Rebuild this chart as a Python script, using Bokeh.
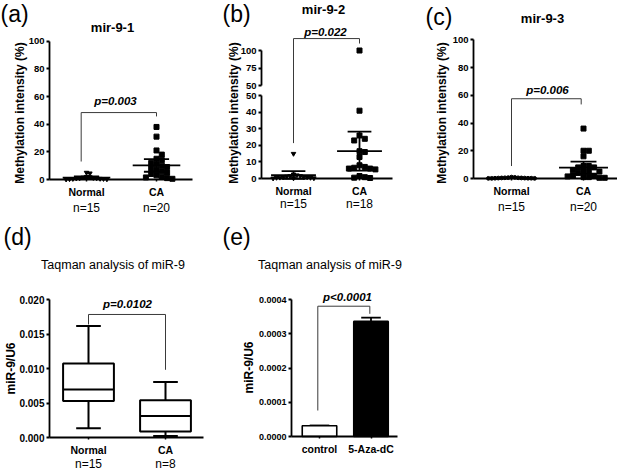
import math
from bokeh.plotting import figure
from bokeh.models import Range1d, FixedTicker, LinearAxis, Label, NumeralTickFormatter
from bokeh.layouts import row, column
from bokeh.embed import file_html
from bokeh.resources import INLINE

FONT = "Liberation Sans"

# ---------------- data ----------------
groups = ["Normal", "CA"]
mir_titles = ["mir-9-1", "mir-9-2", "mir-9-3"]
taqman_title = "Taqman analysis of miR-9"
p_values = ["p=0.003", "p=0.022", "p=0.006", "p=0.0102", "p<0.0001"]
y_title_methyl = "Methylation intensity (%)"
y_title_ratio = "miR-9/U6"

a_n = ["n=15", "n=20"]
a_normal = [5.0, 4.5, 2.0, 1.8, 1.5, 1.2, 1.0, 1.0, 0.8, 0.6, 0.5, 0.5, 0.3, 0.2, 0.1]
a_ca = [38, 31, 21, 18, 15, 14, 12, 11, 10, 9, 8, 7, 6, 5, 4, 3, 2, 1.5, 1, 0.5]
a_mean = [1.4, 10.2]
a_err = [0.8, 4.6]

b_n = ["n=15", "n=18"]
b_normal = [15, 2.5, 2.0, 1.5, 1.5, 1.2, 1.0, 1.0, 0.8, 0.6, 0.5, 0.5, 0.3, 0.2, 0.1]
b_ca = [100, 41, 26, 24, 23, 16.5, 16, 13, 8, 7, 6.5, 6, 6, 5.5, 1.5, 0.8, 0.5, 0.3]
b_mean = [2.1, 16.6]
b_err = [2.3, 11.8]

c_n = ["n=15", "n=20"]
c_normal = [1.0, 0.8, 0.6, 0.5, 0.5, 0.4, 0.4, 0.3, 0.3, 0.2, 0.2, 0.2, 0.1, 0.1, 0.1]
c_ca = [36, 20, 20, 16, 9, 9, 8, 8, 6, 5, 5, 5, 4, 2, 2, 1.5, 1, 1, 0.5, 0.5]
c_mean = [0.4, 7.8]
c_err = [0.2, 4.4]

d_n = ["n=15", "n=8"]
d_min = [0.00135, 0.0002]
d_q1 = [0.0053, 0.00087]
d_med = [0.00696, 0.00313]
d_q3 = [0.01072, 0.0054]
d_max = [0.01617, 0.00806]

e_groups = ["control", "5-Aza-dC"]
e_val = [0.0000312, 0.000336]
e_err = [0.000001, 0.000011]

# significance brackets: x_left, x_right, top, left end, right end
a_bracket = (0.924, 2.0, 48.4, 13.0, 45.6)
b_bracket = (1.0, 2.0, 84.6, 21.4, 81.6)
c_bracket = (1.0, 1.968, 57.5, 9.0, 53.4)
d_bracket = (1.0, 2.0, 0.01783, 0.01638, 0.00981)
e_bracket = (0.967, 1.977, 0.0003804, 0.0000759, 0.0003582)

# ---------------- geometry helpers (page pixels -> data) ----------------
def G(fig_left, fig_top, W, H, p1, p2, y0, ppu):
    return dict(fig_left=fig_left, fig_top=fig_top, W=W, H=H, p1=p1, p2=p2, y0=y0, ppu=ppu)

def X(g, px):
    return 1 + (px - g["p1"]) / (g["p2"] - g["p1"])

def Y(g, py):
    return (g["y0"] - py) / g["ppu"]

def make_fig(g):
    p = figure(width=g["W"], height=g["H"],
               x_range=Range1d(X(g, g["fig_left"]), X(g, g["fig_left"] + g["W"])),
               y_range=Range1d(Y(g, g["fig_top"] + g["H"]), Y(g, g["fig_top"])),
               min_border=0, output_backend="svg", toolbar_location=None)
    p.title.visible = False
    p.xgrid.grid_line_color = None
    p.ygrid.grid_line_color = None
    p.outline_line_color = None
    p.background_fill_color = "white"
    p.border_fill_color = "white"
    return p

def style_y(ax, loc, ticks, bounds, size="9.5px", fmt=None):
    ax.fixed_location = loc
    ax.ticker = FixedTicker(ticks=ticks)
    ax.bounds = bounds
    ax.axis_line_width = 1.8
    ax.axis_line_color = "black"
    ax.major_tick_line_width = 1.8
    ax.major_tick_line_color = "black"
    ax.major_tick_out = 3
    ax.major_tick_in = 0
    ax.minor_tick_line_color = None
    ax.major_label_standoff = 2
    ax.major_label_text_font = FONT
    ax.major_label_text_font_size = size
    ax.major_label_text_font_style = "bold"
    ax.major_label_text_color = "black"
    if fmt:
        ax.formatter = NumeralTickFormatter(format=fmt)

def style_x(ax, labels, bounds):
    ax.fixed_location = 0
    ax.bounds = bounds
    ax.ticker = FixedTicker(ticks=[1, 2])
    ax.major_label_overrides = {1: labels[0], 2: labels[1]}
    ax.axis_line_width = 1.8
    ax.axis_line_color = "black"
    ax.major_tick_line_width = 1.5
    ax.major_tick_line_color = "black"
    ax.major_tick_out = 2
    ax.major_tick_in = 0
    ax.minor_tick_line_color = None
    ax.major_label_standoff = 4
    ax.major_label_text_font = FONT
    ax.major_label_text_font_size = "10.5px"
    ax.major_label_text_font_style = "bold"
    ax.major_label_text_color = "black"

def add_text(p, g, px, py, text, size, style="normal", align="center",
             baseline="middle", angle=0.0):
    p.add_layout(Label(x=X(g, px), y=Y(g, py), text=text, text_font=FONT,
                       text_font_size=f"{size}px", text_font_style=style,
                       text_align=align, text_baseline=baseline, angle=angle,
                       text_color="black"))

def swarm(vals, ypx, spacing):
    placed, offs = [], []
    for v in vals:
        y = ypx(v)
        k = 0
        while True:
            off = ((k + 1) // 2) * spacing * (1 if k % 2 == 1 else -1)
            ok = all(abs(off - ox) >= spacing - 1e-6 or abs(y - oy) >= spacing - 1e-6
                     for ox, oy in placed)
            if ok:
                break
            k += 1
        placed.append((off, y))
        offs.append(off)
    return offs

def mean_err(p, means, errs, half=0.34, cap=0.18, lw=1.8):
    xs = [1, 2]
    lo = [m - e for m, e in zip(means, errs)]
    hi = [m + e for m, e in zip(means, errs)]
    p.segment(x0=[x - half for x in xs], x1=[x + half for x in xs], y0=means, y1=means,
              line_color="black", line_width=lw)
    p.segment(x0=xs, x1=xs, y0=lo, y1=hi, line_color="black", line_width=lw)
    p.segment(x0=[x - cap for x in xs], x1=[x + cap for x in xs], y0=hi, y1=hi,
              line_color="black", line_width=lw)
    p.segment(x0=[x - cap for x in xs], x1=[x + cap for x in xs], y0=lo, y1=lo,
              line_color="black", line_width=lw)

def bracket(p, br):
    xl, xr, top, le, re_ = br
    p.line(x=[xl, xl, xr, xr], y=[le, top, top, re_], line_color="#3a3a3a", line_width=1)

def scatter_group(p, g, pos, vals, marker, size, spacing, ypx):
    offs = swarm(vals, ypx, spacing)
    xs = [pos + o / (g["p2"] - g["p1"]) for o in offs]
    p.scatter(x=xs, y=vals, marker=marker, size=size, color="black")

YT = 12  # y-title font size

# ---------------- panel (a) ----------------
ga = G(0, 0, 208, 222, 86, 156, 179, 1.383)
pa = make_fig(ga)
style_x(pa.xaxis[0], groups, (X(ga, 49), X(ga, 192)))
style_y(pa.yaxis[0], X(ga, 49), [0, 20, 40, 60, 80, 100], (0, 100))
ya = lambda v: ga["y0"] - v * ga["ppu"]
bracket(pa, a_bracket)
scatter_group(pa, ga, 1, a_normal, "inverted_triangle", 4.5, 3.4, ya)
scatter_group(pa, ga, 2, a_ca, "square", 5, 5.3, ya)
mean_err(pa, a_mean, a_err)
add_text(pa, ga, 0, 0, "(a)", 23, align="left", baseline="top")
add_text(pa, ga, 112, 27, mir_titles[0], 13, style="bold")
add_text(pa, ga, 115, 100, p_values[0], 11.5, style="bold italic")
add_text(pa, ga, 86, 207, a_n[0], 12)
add_text(pa, ga, 156, 207, a_n[1], 12)
add_text(pa, ga, 19, 112.5, y_title_methyl, YT, style="bold", angle=math.pi / 2)

# ---------------- panel (b) : broken axis ----------------
gb = G(208, 0, 205, 222, 293, 359, 178, 1.654)
B_UP50, B_UPPU = 85.0, 0.7
def yu(py):
    return 50 + (B_UP50 - py) / B_UPPU
pb = make_fig(gb)
pb.extra_y_ranges = {"up": Range1d(yu(gb["fig_top"] + gb["H"]), yu(gb["fig_top"]))}
style_x(pb.xaxis[0], groups, (X(gb, 261), X(gb, 392)))
style_y(pb.yaxis[0], X(gb, 261), [0, 10, 20, 30, 40, 50], (0, 50))
up_axis = LinearAxis(y_range_name="up")
style_y(up_axis, X(gb, 261), [50, 75, 100], (50, 100))
pb.add_layout(up_axis, "left")
def yb(v):
    return B_UP50 - (v - 50) * B_UPPU if v > 50 else gb["y0"] - v * gb["ppu"]
bracket(pb, b_bracket)
scatter_group(pb, gb, 1, b_normal, "inverted_triangle", 4.5, 3.4, yb)
offs_b = swarm(b_ca, yb, 5.3)
xs_b = [2 + o / (gb["p2"] - gb["p1"]) for o in offs_b]
lo_idx = [i for i, v in enumerate(b_ca) if v <= 50]
hi_idx = [i for i, v in enumerate(b_ca) if v > 50]
pb.scatter(x=[xs_b[i] for i in lo_idx], y=[b_ca[i] for i in lo_idx], marker="square",
           size=5, color="black")
pb.scatter(x=[xs_b[i] for i in hi_idx], y=[b_ca[i] for i in hi_idx], marker="square",
           size=5, color="black", y_range_name="up")
mean_err(pb, b_mean, b_err)
add_text(pb, gb, 222, 0, "(b)", 23, align="left", baseline="top")
add_text(pb, gb, 323, 9, mir_titles[1], 13, style="bold")
add_text(pb, gb, 325, 31, p_values[1], 11.5, style="bold italic")
add_text(pb, gb, 293, 203, b_n[0], 12)
add_text(pb, gb, 359, 203, b_n[1], 12)
add_text(pb, gb, 233, 112.5, y_title_methyl, YT, style="bold", angle=math.pi / 2)

# ---------------- panel (c) ----------------
gc = G(413, 0, 204, 222, 511, 583, 178, 1.387)
pc = make_fig(gc)
style_x(pc.xaxis[0], groups, (X(gc, 473), X(gc, 617)))
style_y(pc.yaxis[0], X(gc, 473), [0, 20, 40, 60, 80, 100], (0, 100))
yc = lambda v: gc["y0"] - v * gc["ppu"]
bracket(pc, c_bracket)
scatter_group(pc, gc, 1, c_normal, "circle", 3.8, 3.3, yc)
scatter_group(pc, gc, 2, c_ca, "square", 5, 5.3, yc)
mean_err(pc, c_mean, c_err)
add_text(pc, gc, 425, 3, "(c)", 23, align="left", baseline="top")
add_text(pc, gc, 542, 18, mir_titles[2], 13, style="bold")
add_text(pc, gc, 547, 89, p_values[2], 11.5, style="bold italic")
add_text(pc, gc, 511, 206, c_n[0], 12)
add_text(pc, gc, 583, 206, c_n[1], 12)
add_text(pc, gc, 441, 112.5, y_title_methyl, YT, style="bold", angle=math.pi / 2)

# ---------------- panel (d) : box plot ----------------
gd = G(0, 222, 220, 252, 88, 165, 437, 6900)
pd_ = make_fig(gd)
style_x(pd_.xaxis[0], groups, (X(gd, 49), X(gd, 203)))
style_y(pd_.yaxis[0], X(gd, 49), [0, 0.005, 0.010, 0.015, 0.020], (0, 0.02), size="10px",
        fmt="0.000")
bracket(pd_, d_bracket)
xs = [1, 2]
pd_.segment(x0=xs, x1=xs, y0=d_q3, y1=d_max, line_color="black", line_width=2)
pd_.segment(x0=xs, x1=xs, y0=d_min, y1=d_q1, line_color="black", line_width=2)
pd_.segment(x0=[x - 0.16 for x in xs], x1=[x + 0.16 for x in xs], y0=d_max, y1=d_max,
            line_color="black", line_width=2)
pd_.segment(x0=[x - 0.16 for x in xs], x1=[x + 0.16 for x in xs], y0=d_min, y1=d_min,
            line_color="black", line_width=2)
pd_.quad(left=[x - 0.33 for x in xs], right=[x + 0.33 for x in xs], bottom=d_q1, top=d_q3,
         fill_color="white", line_color="black", line_width=2)
pd_.segment(x0=[x - 0.33 for x in xs], x1=[x + 0.33 for x in xs], y0=d_med, y1=d_med,
            line_color="black", line_width=2)
add_text(pd_, gd, 3, 223, "(d)", 23, align="left", baseline="top")
add_text(pd_, gd, 112.5, 264, taqman_title, 12.5)
add_text(pd_, gd, 127, 303, p_values[3], 11.5, style="bold italic")
add_text(pd_, gd, 88, 463, d_n[0], 12)
add_text(pd_, gd, 165, 463, d_n[1], 12)
add_text(pd_, gd, 10.5, 368, y_title_ratio, YT, style="bold", angle=math.pi / 2)

# ---------------- panel (e) : bar chart ----------------
ge = G(220, 222, 397, 252, 319, 370.5, 436, 342500)
pe = make_fig(ge)
style_x(pe.xaxis[0], e_groups, (X(ge, 291), X(ge, 397)))
style_y(pe.yaxis[0], X(ge, 291), [0, 0.0001, 0.0002, 0.0003, 0.0004], (0, 0.0004),
        size="9px", fmt="0.0000")
bracket(pe, e_bracket)
e_top = [v + e for v, e in zip(e_val, e_err)]
pe.segment(x0=xs, x1=xs, y0=e_val, y1=e_top, line_color="black", line_width=1.8)
pe.segment(x0=[x - 0.19 for x in xs], x1=[x + 0.19 for x in xs], y0=e_top, y1=e_top,
           line_color="black", line_width=1.8)
pe.vbar(x=xs, top=e_val, width=0.67, fill_color=["white", "black"], line_color="black",
        line_width=1.6)
add_text(pe, ge, 222, 223, "(e)", 23, align="left", baseline="top")
add_text(pe, ge, 329.5, 264, taqman_title, 12.5)
add_text(pe, ge, 347, 296, p_values[4], 11.5, style="bold italic")
add_text(pe, ge, 248, 367, y_title_ratio, YT, style="bold", angle=math.pi / 2)

layout = column(row(pa, pb, pc), row(pd_, pe))
open("out.html", "w").write(file_html(layout, INLINE))
